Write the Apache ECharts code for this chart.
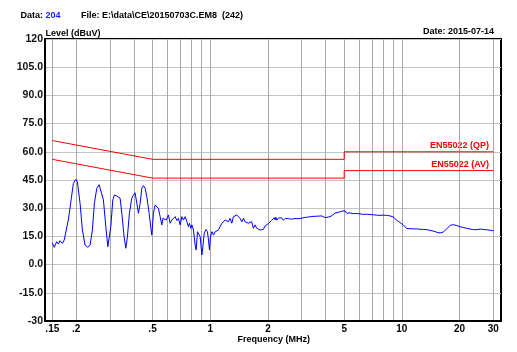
<!DOCTYPE html>
<html>
<head>
<meta charset="utf-8">
<script src="https://cdn.jsdelivr.net/npm/echarts@6/dist/echarts.min.js"></script>
<style>html,body{margin:0;padding:0;background:#fff;}#c{width:517px;height:352px;}</style>
</head>
<body>
<div id="c"></div>
<script>
// ---- data ----
const freqMHz = [0.150,0.1536,0.1581,0.1614,0.1645,0.1694,0.1731,0.1768,0.1818,0.1880,0.1932,0.1988,0.2027,0.2094,0.2153,0.2224,0.2298,0.2362,0.2428,0.2487,0.2560,0.2632,0.2696,0.2772,0.2853,0.2922,0.2968,0.3029,0.3103,0.3163,0.3255,0.3387,0.3457,0.3554,0.3628,0.3698,0.3788,0.3898,0.3974,0.4056,0.4140,0.4221,0.4308,0.4397,0.4482,0.4575,0.4669,0.4800,0.4917,0.4959,0.5055,0.5117,
0.5160,0.5266,0.5368,0.5479,0.5592,0.5660,0.5749,0.5889,0.6054,0.6179,0.6307,0.6429,0.6562,0.6698,0.6827,0.6969,0.7113,0.7250,0.7400,0.7553,0.7699,0.7792,0.7924,0.8021,0.8176,0.8346,0.8447,0.8580,0.8726,0.8864,0.9046,0.9157,0.9302,0.9492,0.9677,0.9794,0.9912,1.003,1.020,1.040,1.062,1.083,1.104,1.127,1.150,1.173,1.197,1.221,1.245,1.270,1.296,1.321,1.348,1.376,1.403,1.432,1.462,1.491,1.520,1.551,1.581,1.614,1.647,1.679,1.714,1.749,1.783,1.820,1.858,1.894,
1.93,1.973,2.01,2.053,2.09,2.136,2.16,2.180,2.20,2.225,2.27,2.315,2.36,2.408,2.46,2.509,2.56,2.610,2.66,2.716,2.77,2.829,2.89,2.943,3.00,3.062,3.13,3.190,3.25,3.319,3.39,3.453,3.52,3.597,3.67,3.742,3.82,3.894,3.97,4.056,4.14,4.219,4.30,4.390,4.48,4.573,4.66,4.758,4.85,4.950,5.05,5.156,5.26,5.365,5.47,5.582,5.70,5.814,5.93,6.049,6.17,6.293,6.42,6.555,6.69,6.821,6.96,7.097,7.24,7.392,7.536,7.69,7.850,8.01,8.168,8.33,8.499,8.68,8.852,9.024,9.210,9.40,9.583,9.78,9.983,
10.19,10.39,10.60,10.81,11.03,11.26,11.49,11.72,11.95,12.19,12.44,12.70,12.95,13.21,13.48,13.75,14.03,14.32,14.61,14.91,15.21,15.51,15.83,16.16,16.48,16.81,17.15,17.49,17.85,18.22,18.59,18.96,19.34,19.73,20.14,20.55,20.96,21.38,21.81,22.24,22.70,23.17,23.63,24.10,24.59,25.08,25.60,26.12,26.64,27.17,27.72,28.27,28.85,29.45,30.0];
const levelDbuV = [11.6,9.2,12.2,10.9,12.7,11.3,13.1,14.0,23.7,34.4,43.2,45.3,44.1,32.6,18.4,10.4,9.2,10.4,18.4,32.6,40.6,42.5,41.8,34.4,20.2,9.5,10.4,20.2,34.4,37.0,36.5,35.3,27.3,14.8,8.7,14.8,27.3,35.3,37.0,38.2,32.6,27.3,32.6,40.6,42.0,40.6,36.1,27.3,18.4,15.7,27.3,29.9,
31.7,31.2,29.9,25.5,21.1,24.6,25.5,23.7,26.4,22.0,23.7,24.1,25.5,23.4,24.6,21.1,25.5,23.7,25.5,22.8,20.2,22.0,19.3,21.1,18.4,10.4,7.8,17.5,18.4,14.8,5.1,9.5,16.6,18.7,17.5,13.1,7.8,14.8,17.5,15.7,17.5,16.6,18.4,19.3,22.0,22.8,23.7,24.6,22.8,24.6,22.0,25.5,24.6,26.4,25.5,24.6,22.8,24.6,22.8,23.7,22.0,21.1,22.8,19.3,21.1,19.3,20.2,18.4,19.3,18.7,
20.5,19.6,21.8,21.2,23.5,22.6,24.9,23.8,25.2,23.6,24.8,23.9,24.9,23.5,24.6,23.8,24.4,23.5,24.2,23.8,24.5,23.7,24.4,24.0,24.7,24.3,25.1,24.6,25.3,24.8,25.6,25.1,25.7,25.2,25.8,25.3,25.9,25.5,25.0,24.7,25.3,25.0,25.9,26.2,27.4,26.6,27.8,26.8,28.4,27.4,28.6,27.3,28.2,27.5,28.0,27.1,27.8,27.2,27.6,27.0,27.4,26.7,27.2,26.8,27.1,26.6,27.0,26.5,26.9,26.3,26.7,26.2,26.6,26.3,26.9,26.2,26.5,25.9,26.1,25.3,24.6,23.6,23.4,22.4,22.2,
21.0,20.4,19.2,18.6,19.1,18.5,19.0,18.6,19.0,18.4,18.8,18.3,18.7,18.3,18.6,18.0,18.2,17.6,17.8,17.0,17.2,16.2,16.8,16.4,17.4,17.8,19.0,19.4,20.9,20.2,21.2,20.4,20.8,20.0,20.1,19.5,19.7,19.1,19.3,18.6,18.9,18.3,18.6,18.3,18.6,18.5,18.9,18.4,18.7,18.2,18.5,18.1,18.3,17.9,18.0];
const qpFreq  = [0.15, 0.5, 5, 5, 30];
const qpLevel = [66, 56, 56, 60, 60];
const avFreq  = [0.15, 0.5, 5, 5, 30];
const avLevel = [56, 46, 46, 50, 50];
const xGridFreqs  = [0.15,0.2,0.3,0.4,0.5,0.6,0.7,0.8,0.9,1,2,3,4,5,6,7,8,9,10,20,30];
const xLabelFreqs = [0.15,0.2,0.5,1,2,5,10,20,30];
const xMinMHz = 0.1374, xMaxMHz = 32.9;
const yMin = -30, yMax = 120, yStep = 15;

// ---- chart ----
const FONT = 'Liberation Sans, Arial, sans-serif';
const lg = Math.log10;
const pairs = (fs, vs) => fs.map((f, i) => [lg(f), vs[i]]);

const chart = echarts.init(document.getElementById('c'), null, {renderer: 'canvas'});
chart.setOption({
  animation: false,
  backgroundColor: '#fff',
  grid: {left: 45, top: 39, right: 16, bottom: 31, show: true, backgroundColor: '#fff', borderColor: '#000', borderWidth: 2, z: 0},
  xAxis: {
    type: 'value', min: lg(xMinMHz), max: lg(xMaxMHz),
    axisLine: {show: true, onZero: false, lineStyle: {color: '#000', width: 2}},
    axisTick: {show: false, customValues: xGridFreqs.map(lg)},
    splitLine: {show: true, lineStyle: {color: '#a8a8a8', width: 1}},
    axisLabel: {
      customValues: xLabelFreqs.map(lg), margin: 3,
      fontFamily: FONT, fontWeight: 'bold', fontSize: 10, color: '#000',
      formatter: v => { const f = Math.round(Math.pow(10, v) * 1000) / 1000; return f < 1 ? String(f).slice(1) : String(f); }
    }
  },
  yAxis: {
    type: 'value', min: yMin, max: yMax, interval: yStep,
    axisLine: {show: true, onZero: false, lineStyle: {color: '#000', width: 2}},
    axisTick: {show: false},
    splitLine: {show: true, lineStyle: {color: '#c4c4c4', width: 1}},
    axisLabel: {
      margin: 2, fontFamily: FONT, fontWeight: 'bold', fontSize: 10.5, color: '#111',
      formatter: v => (v === yMax || v === yMin) ? String(v) : v.toFixed(1)
    }
  },
  series: [
    {type: 'line', data: pairs(qpFreq, qpLevel), showSymbol: false, lineStyle: {color: '#ff0000', width: 1}, z: 3},
    {type: 'line', data: pairs(avFreq, avLevel), showSymbol: false, lineStyle: {color: '#ff0000', width: 1}, z: 3},
    {type: 'line', data: pairs(freqMHz, levelDbuV), showSymbol: false, lineStyle: {color: '#0000ff', width: 1}, z: 4}
  ],
  graphic: [
    {type: 'text', left: 20.5, top: 11.5, style: {text: 'Data:', font: 'bold 9px ' + FONT, fill: '#000'}},
    {type: 'text', left: 45.5, top: 11.5, style: {text: '204', font: 'bold 9px ' + FONT, fill: '#1a1aff'}},
    {type: 'text', left: 81, top: 11.5, style: {text: 'File: E:\\data\\CE\\20150703C.EM8  (242)', font: 'bold 9px ' + FONT, fill: '#000'}},
    {type: 'text', left: 45.5, top: 29, style: {text: 'Level (dBuV)', font: 'bold 9px ' + FONT, fill: '#000'}},
    {type: 'text', right: 23, top: 27, style: {text: 'Date: 2015-07-14', font: 'bold 9px ' + FONT, fill: '#000'}},
    {type: 'text', left: 237.5, top: 335, style: {text: 'Frequency (MHz)', font: 'bold 9px ' + FONT, fill: '#000'}},
    {type: 'text', right: 28, top: 141.5, style: {text: 'EN55022 (QP)', font: 'bold 9px ' + FONT, fill: '#ff0000'}},
    {type: 'text', right: 28, top: 160, style: {text: 'EN55022 (AV)', font: 'bold 9px ' + FONT, fill: '#ff0000'}}
  ]
});
</script>
</body>
</html>
